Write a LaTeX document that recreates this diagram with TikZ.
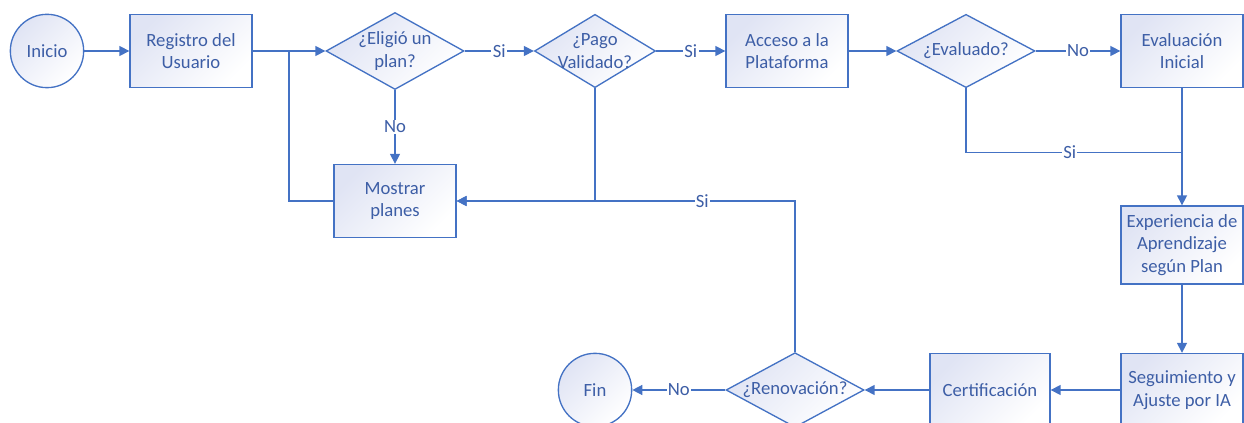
\documentclass[tikz,border=0pt]{standalone}
\usepackage{fontspec}
\setmainfont{Carlito}
\usetikzlibrary{shapes.geometric,arrows.meta,calc}
\definecolor{azul}{RGB}{68,114,196}
\definecolor{azultexto}{RGB}{61,94,166}
\definecolor{lila}{RGB}{224,228,244}
\tikzset{
  >={Triangle[length=7.5pt,width=7.5pt]},
  caja/.style={draw=azul, line width=1pt, text=azultexto,
    font=\fontsize{14}{17}\selectfont, align=center,
    top color=lila, bottom color=white, shading angle=45},
  proceso/.style={caja, rectangle, minimum width=91.5pt, minimum height=54.75pt},
  terminal/.style={caja, circle, minimum size=55pt, inner sep=0pt},
  decision/.style={caja, diamond, shape aspect=1.8, inner sep=-4pt, minimum width=103.5pt, minimum height=55pt},
  flujo/.style={draw=azul, line width=1.1pt},
  etiq/.style={fill=white, inner sep=1pt, text=azultexto, font=\fontsize{14}{17}\selectfont}
}
\begin{document}
\begin{tikzpicture}[x=0.75pt,y=-0.75pt]
    \useasboundingbox (0,0) rectangle (1244,423);
    \clip (0,0) rectangle (1244,423);
    % fila de arriba
    \node[terminal] (inicio) at (47,51) {Inicio};
    \node[proceso] (registro) at (191,51) {Registro del\\Usuario};
    \node[decision, minimum height=57.75pt] (eligio) at (395,51) {¿Eligió un\\plan?};
    \node[decision, inner sep=-5pt, minimum width=90.75pt] (pago) at (595,51) {¿Pago\\Validado?};
    \node[proceso] (acceso) at (787,51) {Acceso a la\\Plataforma};
    \node[decision] (evaluado) at (966,51) {¿Evaluado?};
    \node[proceso] (evalini) at (1182,51) {Evaluación\\Inicial};
    \node[proceso] (mostrar) at (395,201) {Mostrar\\planes};
    % columna derecha y fila de abajo
    \node[proceso, minimum height=58.5pt] (experiencia) at (1182,245) {Experiencia de\\Aprendizaje\\según Plan};
    \node[proceso] (seguimiento) at (1182,390) {Seguimiento y\\Ajuste por IA};
    \node[proceso, minimum width=90pt] (certif) at (990,390) {Certificación};
    \node[decision, minimum height=56pt] (renov) at (795,390) {¿Renovación?};
    \node[terminal] (fin) at (595,390) {Fin};
    \coordinate (u1) at ($(registro.east)!.5!(eligio.west)$);
    \coordinate (u2) at ($(evalini.south)!.55!(experiencia.north)$);
    \draw[flujo,->] (inicio) -- (registro);
    \draw[flujo,->] (registro) -- (eligio);
    \draw[flujo] (mostrar.west) -| (u1);
    \draw[flujo,->] (eligio) -- node[etiq]{Si} (pago);
    \draw[flujo,->] (eligio) -- node[etiq]{No} (mostrar);
    \draw[flujo,->] (pago) -- node[etiq]{Si} (acceso);
    \draw[flujo,->] (pago) |- (mostrar);
    \draw[flujo,->] (acceso) -- (evaluado);
    \draw[flujo,->] (evaluado) -- node[etiq]{No} (evalini);
    \draw[flujo] (evaluado) |- node[etiq,pos=0.74]{Si} (u2);
    \draw[flujo,->] (evalini) -- (experiencia);
    \draw[flujo,->] (experiencia) -- (seguimiento);
    \draw[flujo,->] (seguimiento) -- (certif);
    \draw[flujo,->] (certif) -- (renov);
    \draw[flujo,->] (renov) -- node[etiq]{No} (fin);
    \draw[flujo,->] (renov) |- node[etiq,pos=0.637]{Si} (mostrar);
\end{tikzpicture}
\end{document}
